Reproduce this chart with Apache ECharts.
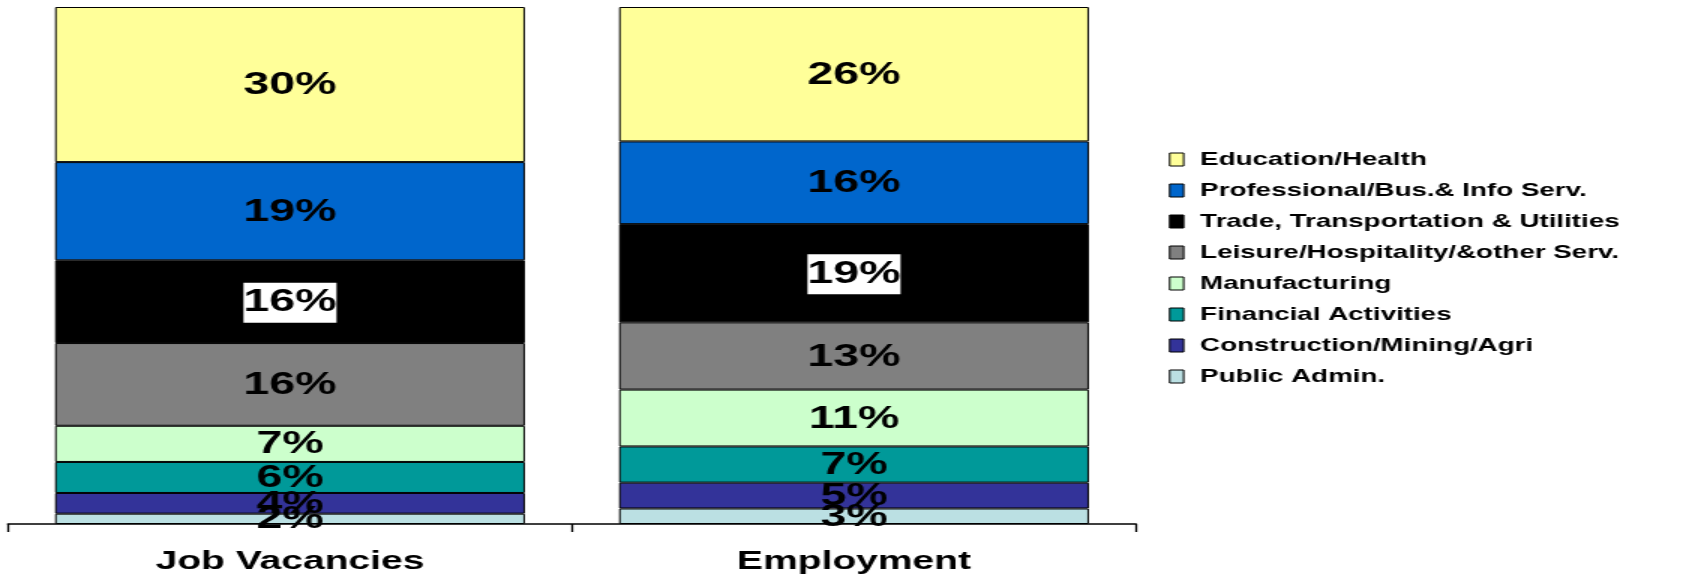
<!DOCTYPE html>
<html>
<head>
<meta charset="utf-8">
<script src="https://cdn.jsdelivr.net/npm/echarts@6/dist/echarts.min.js"></script>
<style>
  html, body { margin: 0; padding: 0; background: #ffffff; overflow: hidden; }
  #wrap { width: 1698px; height: 575px; overflow: hidden; }
  /* The original chart is stretched horizontally by 1.5x; reproduce that stretch */
  #chart { width: 1132px; height: 575px; transform: scaleX(1.5); transform-origin: 0 0; }
</style>
</head>
<body>
<div id="wrap"><div id="chart"></div></div>
<script>
const categories = ['Job Vacancies', 'Employment'];

const seriesNames = [
  'Public Admin.',
  'Construction/Mining/Agri',
  'Financial Activities',
  'Manufacturing',
  'Leisure/Hospitality/&other Serv.',
  'Trade, Transportation & Utilities',
  'Professional/Bus.& Info Serv.',
  'Education/Health'
];

const publicAdmin   = [2, 3];
const construction  = [4, 5];
const financial     = [6, 7];
const manufacturing = [7, 11];
const leisure       = [16, 13];
const trade         = [16, 19];
const professional  = [19, 16];
const education     = [30, 26];

const seriesValues = [publicAdmin, construction, financial, manufacturing, leisure, trade, professional, education];
const seriesColors = ['#BBE0E3', '#333399', '#009999', '#CCFFCC', '#808080', '#000000', '#0066CC', '#FFFF99'];

const legendOrder = seriesNames.slice().reverse();

const FONT = '"Liberation Sans", Arial, sans-serif';

const chart = echarts.init(document.getElementById('chart'), null, { renderer: 'canvas' });

const series = seriesNames.map((name, i) => {
  const isTrade = name.indexOf('Trade') === 0;
  return {
    name: name,
    type: 'bar',
    stack: 'total',
    barCategoryGap: '16.7%',
    data: seriesValues[i],
    itemStyle: { color: seriesColors[i], borderColor: '#000000', borderWidth: 1 },
    label: {
      show: true,
      position: 'inside',
      offset: [0, 1],
      formatter: '{c}%',
      color: '#000000',
      fontFamily: FONT,
      fontWeight: 'bold',
      fontSize: 31,
      backgroundColor: isTrade ? '#ffffff' : 'transparent',
      padding: isTrade ? [5, 0, 4, 0] : 0
    },
    emphasis: { disabled: true }
  };
});

chart.setOption({
  animation: false,
  backgroundColor: '#ffffff',
  grid: { left: 5.33, right: 374.67, top: 7, bottom: 51, containLabel: false },
  xAxis: {
    type: 'category',
    data: categories,
    axisLine: { show: true, lineStyle: { color: '#000000', width: 1.5 } },
    axisTick: { show: true, length: 8, lineStyle: { color: '#000000', width: 1.3 } },
    axisLabel: {
      color: '#000000',
      fontFamily: FONT,
      fontWeight: 'bold',
      fontSize: 26,
      margin: 25
    },
    splitLine: { show: false }
  },
  yAxis: {
    type: 'value',
    min: 0,
    max: 100,
    show: false
  },
  legend: {
    orient: 'vertical',
    left: 779.3,
    top: 150,
    padding: 0,
    itemGap: 12,
    itemWidth: 9.3,
    itemHeight: 13,
    icon: 'rect',
    data: legendOrder,
    selectedMode: false,
    itemStyle: { borderColor: '#000000', borderWidth: 1 },
    textStyle: {
      color: '#000000',
      fontFamily: FONT,
      fontWeight: 'bold',
      fontSize: 18.5,
      lineHeight: 19,
      padding: [0, 0, 0, 6]
    }
  },
  series: series
});
</script>
</body>
</html>
